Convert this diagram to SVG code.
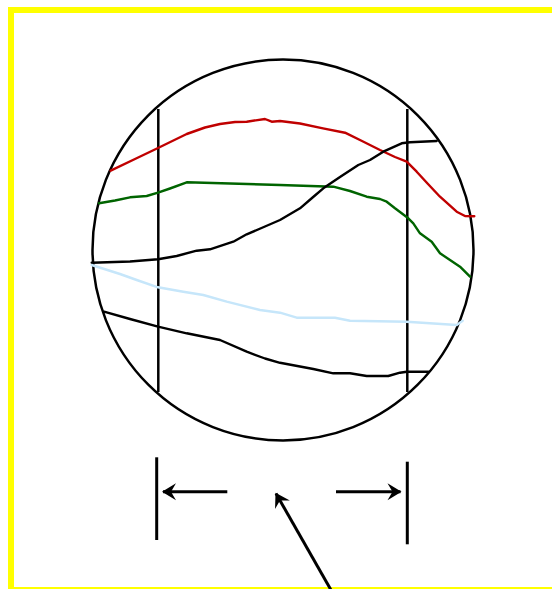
<svg xmlns="http://www.w3.org/2000/svg" width="552" height="589" viewBox="0 0 552 589">
<defs>
<style>
.frame{fill:none;stroke:#ffff00;stroke-width:6}
.blk{fill:none;stroke:#000;stroke-width:2.5;stroke-linecap:butt}
.crv{fill:none;stroke-width:2.4;stroke-linejoin:round;stroke-linecap:round}
.arr{fill:none;stroke:#000;stroke-width:3}
</style>
<marker id="ah" markerUnits="userSpaceOnUse" markerWidth="24" markerHeight="22" refX="0" refY="0" viewBox="-16 -11 18 22" orient="auto">
<path d="M1,0 L-13,-8.5 L-8,0 L-13,8.5 Z" fill="#000"/>
</marker>
</defs>
<rect width="552" height="589" fill="#fff"/>
<rect class="frame" x="11" y="10" width="550" height="580"/>
<g id="lens">
<circle class="blk" cx="283" cy="250" r="190.5"/>
</g>
<g id="markers">
<line class="blk" x1="158.3" y1="109" x2="158.3" y2="392"/>
<line class="blk" x1="407.3" y1="109" x2="407.3" y2="392"/>
</g>
<g id="curves">
<polyline class="crv" stroke="#c00000" points="110.7,170.7 135,159 158,148 186.7,134 205,127.5 220,124 235,122 246.7,121.7 265,119 271.7,121.7 280,121 300,123.5 323,128.3 345,132.7 362,141 380,150 395,157 406.7,161.7 416.7,171.7 428,184 440,196.7 456.7,211.7 465,216 474.3,216.3"/>
<polyline class="crv" stroke="#006400" points="99,203.3 115,200.5 130,197.3 146.7,196 158,192.7 170,188.5 186.7,182.3 280,185 333.3,186.7 350,191 366.7,196.7 380,199 386.7,201.7 395,208.3 408.3,218.3 413.3,223.3 420,233.3 431.7,241.7 440,253.3 450,260 460,266.7 470,276.7"/>
<polyline class="crv" stroke="#000" points="91.7,262.7 130,261.5 158,259.3 176.7,256 196.7,250.7 210,249.3 233.3,241.7 246.7,234.3 265,226.5 280,220 300,208.3 312,198 323.3,188.3 340,177 358.3,165 370,160 383.3,151.7 401.7,143.3 410,142.3 436.7,141"/>
<polyline class="crv" stroke="#c6e6fa" points="91.7,265 120,274 136.7,280 158,287.3 183.3,291.7 203.3,295 226.7,301.7 260,310 280,312.7 296.7,317.7 335,317.7 350,320.7 406.7,321.7 456.7,325 462.7,320.7"/>
<polyline class="crv" stroke="#000" points="104,311.7 130,319 158,326.7 186.7,333.3 220,340 246.7,351.7 265,358.5 280,362.8 313.3,369 333.3,373.3 350,373.3 366.7,376 388.3,376 400,372.7 406.7,371.7 428.3,371.7"/>
</g>
<g id="connectors">
<line class="arr" x1="156.7" y1="457.3" x2="156.7" y2="540"/>
<line class="arr" x1="407.3" y1="461.7" x2="407.3" y2="544.3"/>
<line class="arr" x1="227.3" y1="491.7" x2="163" y2="491.7" marker-end="url(#ah)"/>
<line class="arr" x1="336" y1="491.7" x2="400.5" y2="491.7" marker-end="url(#ah)"/>
<line class="arr" x1="331" y1="590" x2="276" y2="493.5" marker-end="url(#ah)"/>
</g>
</svg>
